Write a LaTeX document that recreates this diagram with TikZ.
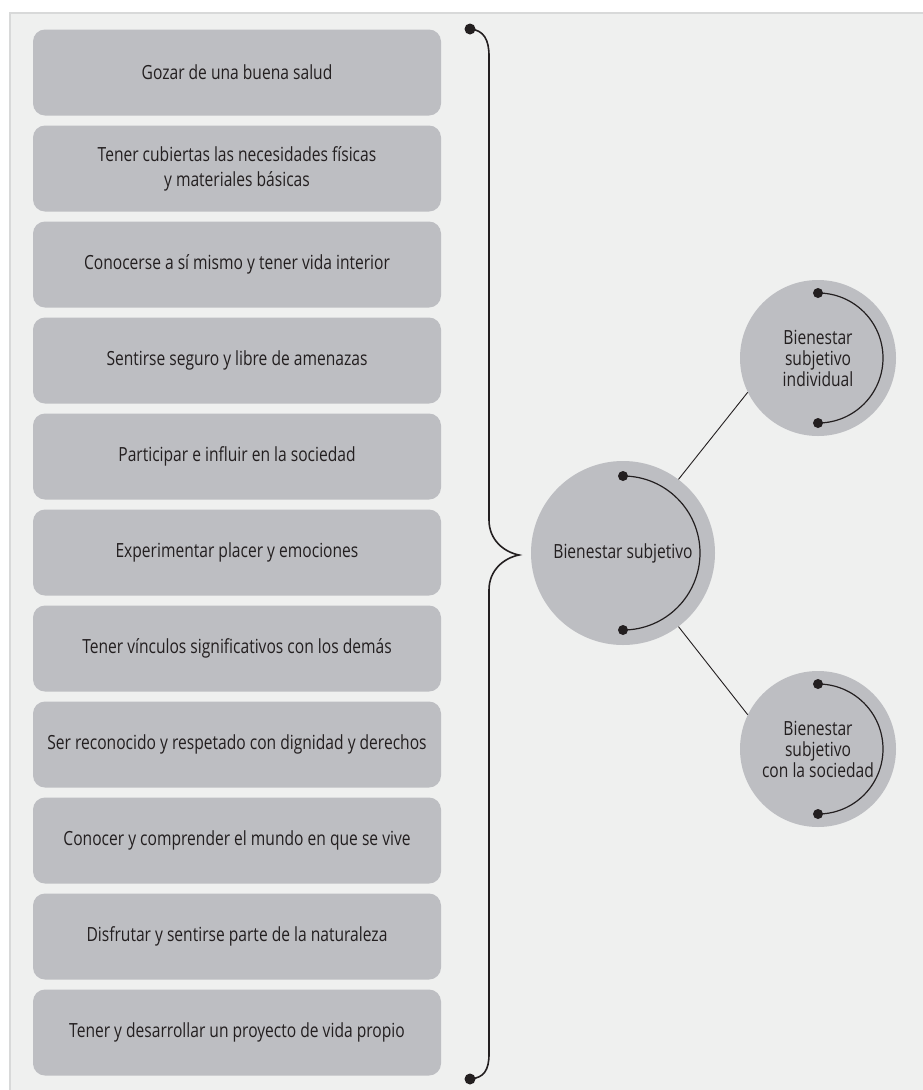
\documentclass[tikz,border=0pt]{standalone}
\usepackage{fontspec}
\setmainfont{Open Sans}[FakeStretch=0.8]
\usetikzlibrary{positioning,calc}
\definecolor{panelgray}{HTML}{EFF0EF}
\definecolor{panelline}{HTML}{D8D9D9}
\definecolor{boxgray}{HTML}{BDBEC2}
\definecolor{inkgray}{HTML}{231F20}
\tikzset{
  item/.style={fill=boxgray, rounded corners=12pt, minimum width=408pt,
    minimum height=86pt, inner sep=0pt, align=center, text=inkgray,
    font=\fontsize{19.5}{25}\selectfont},
  bubble/.style={circle, fill=boxgray, inner sep=0pt, align=center, text=inkgray,
    font=\fontsize{19.5}{21}\selectfont},
  dotr/.style={fill=inkgray}
}

\begin{document}
\begin{tikzpicture}[x=1pt,y=-1pt]
\useasboundingbox (0,0) rectangle (923,1090);
\fill[white] (0,0) rectangle (923,1090);
\draw[panelline, fill=panelgray, line width=1.5pt] (10,13) rectangle (930,1100);
% list of conditions
\node[item] (b1) at (237,72.5) {Gozar de una buena salud};
\node[item, below=9.6pt of b1] (b2) {Tener cubiertas las necesidades físicas\\y materiales básicas};
\node[item, below=9.6pt of b2] (b3) {Conocerse a sí mismo y tener vida interior};
\node[item, below=9.6pt of b3] (b4) {Sentirse seguro y libre de amenazas};
\node[item, below=9.6pt of b4] (b5) {Participar e influir en la sociedad};
\node[item, below=9.6pt of b5] (b6) {Experimentar placer y emociones};
\node[item, below=9.6pt of b6] (b7) {Tener vínculos significativos con los demás};
\node[item, below=9.6pt of b7] (b8) {Ser reconocido y respetado con dignidad y derechos};
\node[item, below=9.6pt of b8] (b9) {Conocer y comprender el mundo en que se vive};
\node[item, below=9.6pt of b9] (b10) {Disfrutar y sentirse parte de la naturaleza};
\node[item, below=9.6pt of b10] (b11) {Tener y desarrollar un proyecto de vida propio};
% brace
\coordinate (T) at (470,29);
\coordinate (M) at (519,555);
\coordinate (U) at (470,1079);
\draw[inkgray, line width=1.6pt] (T) .. controls (484,30) and (489,40) .. (489,56)
  -- (489,520) .. controls (489,540) and (504,552) .. (M)
  .. controls (504,558) and (489,570) .. (489,590)
  -- (489,1054) .. controls (489,1070) and (484,1078) .. (U);
\fill[dotr] (T) circle[radius=5.5pt];
\fill[dotr] (U) circle[radius=5.5pt];
% circles
\node[bubble, minimum size=184pt] (cen) at (623,553) {Bienestar subjetivo};
\node[bubble, minimum size=156pt] (ind) at (818,358) {Bienestar\\subjetivo\\individual};
\node[bubble, minimum size=156pt] (soc) at (818,749) {Bienestar\\subjetivo\\con la sociedad};
\draw[inkgray, line width=0.9pt] (cen.53) -- (ind.206);
\draw[inkgray, line width=0.9pt] (cen.-53) -- (soc.154);
% arcs inside the circles
\draw[inkgray, line width=1.2pt] ($(cen.center)+(0,-77)$) coordinate (c1)
  arc[start angle=-90, end angle=90, radius=77] coordinate (c2);
\fill[dotr] (c1) circle[radius=5pt];
\fill[dotr] (c2) circle[radius=5pt];
\draw[inkgray, line width=1.2pt] ($(ind.center)+(0,-65)$) coordinate (i1)
  arc[start angle=-90, end angle=90, radius=65] coordinate (i2);
\fill[dotr] (i1) circle[radius=5pt];
\fill[dotr] (i2) circle[radius=5pt];
\draw[inkgray, line width=1.2pt] ($(soc.center)+(0,-65)$) coordinate (s1)
  arc[start angle=-90, end angle=90, radius=65] coordinate (s2);
\fill[dotr] (s1) circle[radius=5pt];
\fill[dotr] (s2) circle[radius=5pt];
\end{tikzpicture}
\end{document}
